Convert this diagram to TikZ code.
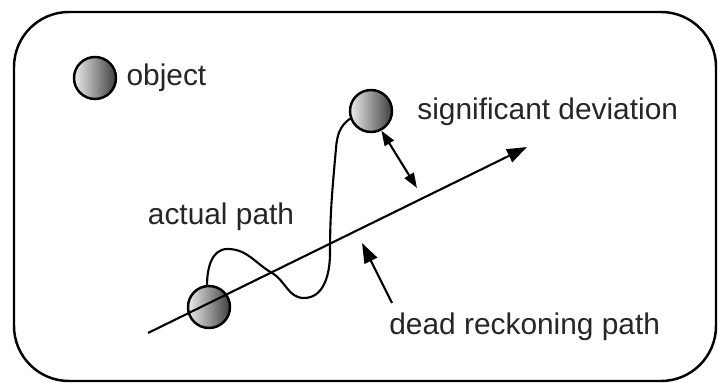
\documentclass[tikz,border=0pt]{standalone}
\usepackage{fontspec}
\setmainfont{Liberation Sans}
\usetikzlibrary{positioning,arrows.meta}

\begin{document}
\begin{tikzpicture}[
      ball/.style={circle, draw=black, line width=1.4pt, minimum size=0.84cm, inner sep=0pt,
                   left color=gray!15, right color=black!75},
      lbl/.style={font=\fontsize{17}{19}\selectfont, text=black!85, inner sep=0pt},
      arr/.style={-{Triangle[length=4mm, width=2.8mm]}, line width=1.2pt},
      darr/.style={{Triangle[length=3mm, width=2.1mm]}-{Triangle[length=3mm, width=2.1mm]}, line width=1.2pt},
      track/.style={line width=1.2pt}
  ]
  \useasboundingbox (0,0) rectangle (14.36,7.66);
  %% ---- frame
  \draw[line width=1.4pt, rounded corners=1.1cm] (0.28,0.04) rectangle (14.32,7.42);

  %% ---- legend
  \node[ball]                     (legend) at (1.9,6.1) {};
  \node[lbl, right=0.18cm of legend] (objtxt) {object};

  %% ---- the two positions of the object
  \node[ball] (start) at (4.18,1.52) {};
  \node[ball] (now)   at (7.42,5.44) {};

  %% ---- dead reckoning line
  \coordinate (drfrom) at (2.96,1.0);
  \coordinate (drto)   at (10.54,4.72);

  %% ---- labels
  \node[lbl, anchor=west] (devtxt) at (8.34,5.42) {significant deviation};
  \node[lbl]              (acttxt) at (4.42,3.32) {actual path};
  \node[lbl, anchor=west] (drtxt)  at (7.78,1.12) {dead reckoning path};

  %% ---- actual path (wiggles across the line)
  \draw[track] (start.95) to[out=90,in=180] (4.55,2.68)
                          to[out=0,in=150] (5.44,2.2)
                          to[out=-30,in=180] (6.08,1.7)
                          to[out=0,in=-90] (6.6,2.6)
                          to[out=90,in=-95] (6.72,4.7)
                          to[out=85,in=215] (now.200);

  %% ---- arrows
  \draw[arr]  (drfrom) -- (drto);
  \coordinate (devend) at (8.34,3.9);
  \draw[darr] (now.-62) -- (devend);
  \coordinate (drtail)  at (7.84,1.6);
  \coordinate (drpoint) at (7.24,2.8);
  \draw[arr]  (drtail) -- (drpoint);
\end{tikzpicture}
\end{document}
